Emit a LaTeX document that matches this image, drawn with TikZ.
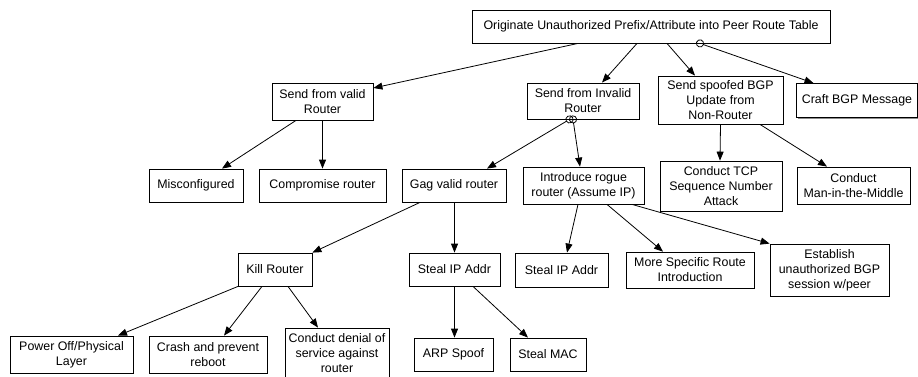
\documentclass[tikz,border=0pt]{standalone}
\usepackage{fontspec}
\setmainfont{Liberation Sans}
\usetikzlibrary{arrows.meta, shadows}

\begin{document}
\begin{tikzpicture}[
    x=1pt, y=-1pt,
    line width=0.8pt,
    >={Triangle[length=9pt, width=7pt]},
    font=\fontsize{12.4}{15}\selectfont,
    block/.style={draw, fill=white, align=center, inner sep=1pt,
        drop shadow={shadow xshift=1.4pt, shadow yshift=-1.4pt, fill=black!45, opacity=1}},
    orlink/.style={{Circle[open, length=8pt, width=8pt]}->, shorten <=-4pt}
]
    \useasboundingbox (0,0) rectangle (918,376);

    % --- top ---
    \node [block, minimum width=358pt, minimum height=33pt] (root) at (651,26.5)
        {Originate Unauthorized Prefix/Attribute into Peer Route Table};

    % --- level 1 ---
    \node [block, minimum width=101pt, minimum height=37pt] (valid) at (322.5,101.5) {Send from valid\\Router};
    \node [block, minimum width=112pt, minimum height=36pt] (invalid) at (583,101) {Send from Invalid\\Router};
    \node [block, minimum width=125pt, minimum height=48pt] (spoofed) at (720.5,100) {Send spoofed BGP\\Update from\\Non-Router};
    \node [block, minimum width=121pt, minimum height=34pt] (craft) at (857,100.5) {Craft BGP Message};

    % --- level 2 ---
    \node [block, minimum width=94pt, minimum height=33pt] (misconf) at (196,185.5) {Misconfigured};
    \node [block, minimum width=127pt, minimum height=33pt] (compromise) at (322.5,185.5) {Compromise router};
    \node [block, minimum width=104pt, minimum height=33pt] (gag) at (454,185.5) {Gag valid router};
    \node [block, minimum width=121pt, minimum height=37pt] (rogue) at (583.5,185.5) {Introduce rogue\\router (Assume IP)};
    \node [block, minimum width=122pt, minimum height=50pt] (tcpseq) at (721,186) {Conduct TCP\\Sequence Number\\Attack};
    \node [block, minimum width=113pt, minimum height=37pt] (mitm) at (853.5,185.5) {Conduct\\Man-in-the-Middle};

    % --- level 3 ---
    \node [block, minimum width=74pt, minimum height=33pt] (kill) at (275,269.5) {Kill Router};
    \node [block, minimum width=91pt, minimum height=33pt] (stealipa) at (454.5,269.5) {Steal IP Addr};
    \node [block, minimum width=93pt, minimum height=34pt] (stealipb) at (561.5,270) {Steal IP Addr};
    \node [block, minimum width=128pt, minimum height=36pt] (morespec) at (690,270) {More Specific Route\\Introduction};
    \node [block, minimum width=119pt, minimum height=52pt] (establish) at (829.5,270) {Establish\\unauthorized BGP\\session w/peer};

    % --- level 4 ---
    \node [block, minimum width=123pt, minimum height=37pt] (poweroff) at (71.5,354.5) {Power Off/Physical\\Layer};
    \node [block, minimum width=118pt, minimum height=37pt] (crash) at (208,354.5) {Crash and prevent\\reboot};
    \node [block, minimum width=104pt, minimum height=50pt] (dos) at (337,353) {Conduct denial of\\service against\\router};
    \node [block, minimum width=79pt, minimum height=33pt] (arp) at (453.5,354.5) {ARP Spoof};
    \node [block, minimum width=76pt, minimum height=33pt] (stealmac) at (548,354.5) {Steal MAC};

    % --- connectors ---
    \draw [->] ([xshift=-73pt]root.south) -- ([yshift=13.5pt]valid.east);
    \draw [->] ([xshift=-14pt]root.south) -- ([xshift=19pt]invalid.north);
    \draw [->] ([xshift=16pt]root.south) -- ([xshift=-25.5pt]spoofed.north);
    \draw [orlink] ([xshift=49pt]root.south) -- ([xshift=-43.5pt]craft.north);

    \draw [->] ([xshift=-26.5pt]valid.south) -- ([xshift=26pt]misconf.north);
    \draw [->] (valid.south) -- (compromise.north);

    \draw [orlink] ([xshift=-13.5pt]invalid.south) -- ([xshift=33pt]gag.north);
    \draw [orlink] ([xshift=-10pt]invalid.south) -- ([xshift=-3.5pt]rogue.north);

    \draw [->] ([xshift=0pt]spoofed.south) -- ([xshift=-1pt]tcpseq.north);
    \draw [->] ([xshift=39.5pt]spoofed.south) -- ([xshift=-26.5pt]mitm.north);

    \draw [->] ([xshift=-34pt]gag.south) -- (kill.north east);
    \draw [->] ([xshift=0.5pt]gag.south) -- (stealipa.north);

    \draw [->] ([xshift=-5.5pt]rogue.south) -- ([xshift=5.5pt]stealipb.north);
    \draw [->] ([xshift=23.5pt]rogue.south) -- ([xshift=-27pt]morespec.north);
    \draw [->] ([xshift=48.5pt]rogue.south) -- (establish.north west);

    \draw [->] ([xshift=-37pt]kill.south) -- ([xshift=46.5pt]poweroff.north);
    \draw [->] ([xshift=-13pt]kill.south) -- ([xshift=16pt]crash.north);
    \draw [->] ([xshift=13pt]kill.south) -- ([xshift=-19pt]dos.north);

    \draw [->] (stealipa.south) -- ([xshift=1pt]arp.north);
    \draw [->] ([xshift=18.5pt]stealipa.south) -- ([xshift=-20pt]stealmac.north);

\end{tikzpicture}
\end{document}
